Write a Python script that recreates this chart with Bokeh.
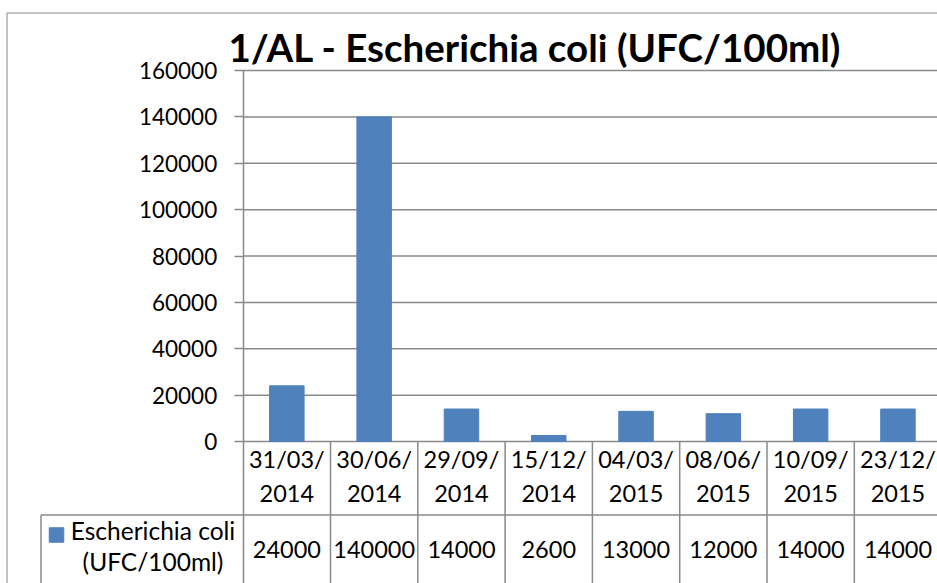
from bokeh.plotting import figure
from bokeh.models import LinearAxis, FixedTicker, Range1d, NumeralTickFormatter
from bokeh.core.properties import value
from bokeh.embed import file_html
from bokeh.resources import INLINE

# ---- data ----
title_text = "1/AL - Escherichia coli (UFC/100ml)"
dates_top = ["31/03/", "30/06/", "29/09/", "15/12/", "04/03/", "08/06/", "10/09/", "23/12/"]
dates_bottom = ["2014", "2014", "2014", "2014", "2015", "2015", "2015", "2015"]
ecoli = [24000, 140000, 14000, 2600, 13000, 12000, 14000, 14000]
y_ticks = [0, 20000, 40000, 60000, 80000, 100000, 120000, 140000, 160000]
series_name = ["Escherichia coli", "(UFC/100ml)"]

# ---- layout constants (page pixels) ----
W, H = 937, 583
CAT = 87.3           # px per category
AX_PX = 242.7        # x=0 position
ZERO_PY = 441.0      # y=0 position
TOP_PY = 70.0        # y=160000 position
YMAX = 160000.0

def px2x(px):
    return (px - AX_PX) / CAT

def py2y(py):
    return (ZERO_PY - py) * YMAX / (ZERO_PY - TOP_PY)

def base(py, fs):
    # visual baseline correction for svg text placement
    return py2y(py - 0.42 * fs)

FONT = value("Lato")
LINE = "#8a8a8a"
BAR = "#4F81BD"
FS = 23.5
FS_TITLE = 38.5

p = figure(width=W, height=H, output_backend="svg", toolbar_location=None,
           x_range=Range1d(px2x(0), px2x(W)),
           y_range=Range1d(py2y(H), py2y(0)),
           x_axis_type=None, y_axis_type=None,
           min_border_left=0, min_border_right=0, min_border_top=0, min_border_bottom=0)
p.outline_line_color = None
p.background_fill_color = "white"
p.border_fill_color = "white"
p.xgrid.visible = False
p.ygrid.visible = False

n = len(ecoli)
centers = [i + 0.5 for i in range(n)]
far_x = px2x(1100)
far_y = py2y(700)

# outer chart border
p.segment(x0=[px2x(6.5), px2x(6.5)], y0=[py2y(12.5), py2y(12.5)],
          x1=[px2x(6.5), far_x], y1=[far_y, py2y(12.5)],
          line_color="#868686", line_width=1)

# horizontal gridlines at tick values
p.segment(x0=[0] * len(y_ticks), y0=y_ticks, x1=[far_x] * len(y_ticks), y1=y_ticks,
          line_color=LINE, line_width=1.5)

# bars
p.vbar(x=centers, top=ecoli, bottom=0, width=0.395, fill_color=BAR, line_color=BAR)

# y axis drawn at x = 0
yaxis = LinearAxis(fixed_location=0, ticker=FixedTicker(ticks=y_ticks),
                   formatter=NumeralTickFormatter(format="0"),
                   bounds=(py2y(H + 50), YMAX))
yaxis.axis_line_color = LINE
yaxis.axis_line_width = 1.5
yaxis.major_tick_line_color = LINE
yaxis.major_tick_line_width = 1.5
yaxis.major_tick_in = 0
yaxis.major_tick_out = 9
yaxis.minor_tick_line_color = None
yaxis.major_label_standoff = 17
yaxis.major_label_text_font = "Lato"
yaxis.major_label_text_font_size = "22.5px"
yaxis.major_label_text_color = "black"
p.add_layout(yaxis, "left")

# data table grid
bounds_x = [i + 1 for i in range(n)]
p.segment(x0=bounds_x, y0=[0] * n, x1=bounds_x, y1=[far_y] * n,
          line_color=LINE, line_width=1.5)
p.segment(x0=[px2x(40.5), px2x(40.5)], y0=[py2y(514.5), py2y(514.5)],
          x1=[far_x, px2x(40.5)], y1=[py2y(514.5), far_y],
          line_color=LINE, line_width=1.5)

# header (category labels)
p.text(x=centers, y=[base(468, FS)] * n, text=dates_top, text_align="center",
       text_baseline="alphabetic", text_font=FONT, text_font_size=f"{FS}px", text_color="black")
p.text(x=centers, y=[base(502.5, FS)] * n, text=dates_bottom, text_align="center",
       text_baseline="alphabetic", text_font=FONT, text_font_size=f"{FS}px", text_color="black")

# values row
p.text(x=centers, y=[base(559, FS)] * n, text=[str(v) for v in ecoli], text_align="center",
       text_baseline="alphabetic", text_font=FONT, text_font_size=f"{FS}px", text_color="black")

# legend key + series name
p.scatter(x=[px2x(56)], y=[py2y(534.5)], marker="square", size=14.5,
          fill_color=BAR, line_color=BAR)
p.text(x=[px2x(152.5)] * 2, y=[base(540, 24.5), base(571, 24.5)], text=series_name,
       text_align="center", text_baseline="alphabetic", text_font=FONT,
       text_font_size="24.5px", text_color="black")

# title
p.text(x=[px2x(228)], y=[base(63, FS_TITLE)], text=[title_text], text_align="left",
       text_baseline="alphabetic", text_font=FONT, text_font_size=f"{FS_TITLE}px",
       text_font_style="bold", text_color="black")

open("out.html", "w").write(file_html(p, INLINE))
